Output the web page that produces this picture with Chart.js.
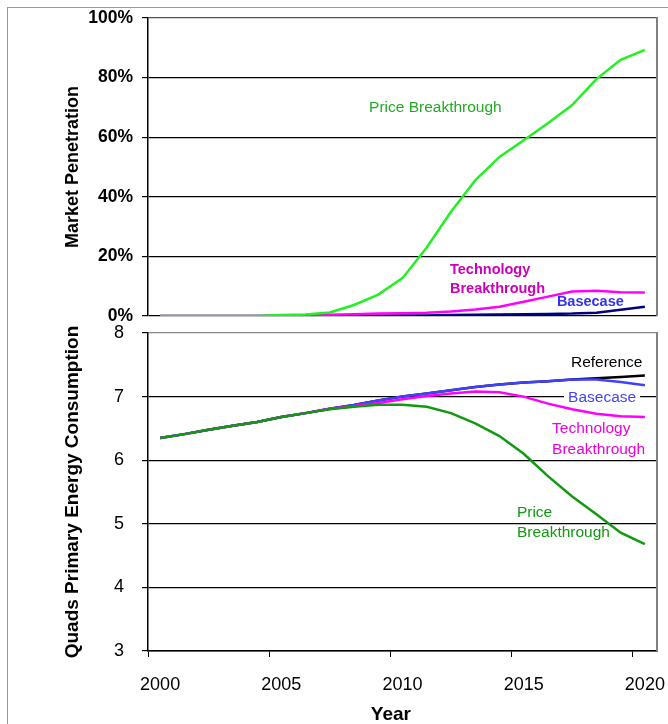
<!DOCTYPE html>
<html>
<head>
<meta charset="utf-8">
<script src="https://cdn.jsdelivr.net/npm/chart.js@4.4.1/dist/chart.umd.min.js"></script>
<style>
  body { margin: 0; background: #fff; }
  #page { position: relative; width: 668px; height: 724px; overflow: hidden; }
  #frame { position: absolute; left: 7px; top: 7px; right: -2px; bottom: -2px; border-left: 1px solid #999; border-top: 1px solid #999; }
  #topChart { position: absolute; left: 0; top: -10px; }
  #bottomChart { position: absolute; left: 0; top: 300px; }
</style>
</head>
<body>
<div id="page">
  <div id="frame"></div>
  <canvas id="topChart" width="668" height="350"></canvas>
  <canvas id="bottomChart" width="690" height="424"></canvas>
</div>
<script>
// categories
var years = ['2000','2001','2002','2003','2004','2005','2006','2007','2008','2009','2010',
             '2011','2012','2013','2014','2015','2016','2017','2018','2019','2020'];

// market penetration, percent
var penPrice = [0,0,0,0,0,0.3,0.5,1.2,3.7,7.2,12.7,23,35,45.5,53.4,59,64.7,70.8,79.5,86,89.3];
var penTech  = [0,0,0,0,0,0.1,0.2,0.4,0.6,0.8,0.9,1.1,1.5,2.2,3.1,4.8,6.5,8.2,8.5,8.0,7.9];
var penBase  = [0,0,0,0,0,0,0,0,0.1,0.1,0.2,0.2,0.3,0.4,0.5,0.6,0.7,0.8,1.1,2.1,3.1];

// primary energy consumption, quads
var quadsRef   = [6.35,6.41,6.48,6.54,6.6,6.68,6.74,6.81,6.87,6.94,7.0,7.05,7.1,7.15,7.19,7.22,7.24,7.27,7.29,7.31,7.33];
var quadsBase  = [6.35,6.41,6.48,6.54,6.6,6.68,6.74,6.81,6.87,6.94,7.0,7.05,7.1,7.15,7.19,7.22,7.24,7.27,7.27,7.23,7.18];
var quadsTech  = [6.35,6.41,6.48,6.54,6.6,6.68,6.74,6.81,6.85,6.9,6.96,7.01,7.05,7.08,7.07,7.0,6.89,6.8,6.73,6.69,6.68];
var quadsPrice = [6.35,6.41,6.48,6.54,6.6,6.68,6.74,6.8,6.84,6.87,6.87,6.84,6.74,6.58,6.38,6.1,5.75,5.43,5.15,4.86,4.68];

// y tick values
var penTicks = [0,20,40,60,80,100];
var quadsTicks = [3,4,5,6,7,8];

// in-chart labels (x in years, y in data units)
var topNotes = [
    { lines: ['Price Breakthrough'], x: 2008.62, y: 69.8, color: '#22aa22', font: '15.5px Arial' },
    { lines: ['Technology', 'Breakthrough'], x: 2011.96, y: 15.4, lh: 19, color: '#cc00bb', font: 'bold 14.5px Arial' },
    { lines: ['Basecase'], x: 2016.37, y: 4.7, color: '#3333ee', font: 'bold 14.5px Arial' }
];
var bottomNotes = [
    { lines: ['Reference'], x: 2016.95, y: 7.54, color: '#000000', font: '15.5px Arial' },
    { lines: ['Basecase'], x: 2016.83, y: 6.99, color: '#4444ff', font: '15.5px Arial', bg: '#ffffff' },
    { lines: ['Technology', 'Breakthrough'], x: 2016.17, y: 6.50, lh: 21, color: '#ee00dd', font: '15.5px Arial' },
    { lines: ['Price', 'Breakthrough'], x: 2014.72, y: 5.17, lh: 20, color: '#119911', font: '15.5px Arial' },
    { lines: ['Year'], x: 2009.52, y: 2.0, color: '#000000', font: 'bold 19px Arial', align: 'center' }
];

var notesPlugin = {
    id: 'notes',
    beforeDatasetsDraw: function (chart, args, opts) {
        var ctx = chart.ctx;
        var xs = chart.scales.x, ys = chart.scales.y;
        (opts.items || []).forEach(function (n) {
            ctx.save();
            ctx.font = n.font;
            ctx.textBaseline = 'middle';
            ctx.textAlign = n.align || 'left';
            var px = xs.getPixelForValue(n.x - 2000);
            n.lines.forEach(function (line, k) {
                var py = ys.getPixelForValue(n.y) + k * (n.lh || 0);
                if (n.bg) {
                    var w = ctx.measureText(line).width;
                    ctx.fillStyle = n.bg;
                    ctx.fillRect(px - 4, py - 4, w + 8, 8);
                }
                ctx.fillStyle = n.color;
                ctx.fillText(line, px, py);
            });
            ctx.restore();
        });
    }
};

var framePlugin = {
    id: 'frameRight',
    afterDatasetsDraw: function (chart) {
        var a = chart.chartArea, ctx = chart.ctx;
        ctx.save();
        ctx.strokeStyle = '#808080';
        ctx.lineWidth = 2;
        ctx.beginPath();
        ctx.moveTo(a.right, a.top - 1);
        ctx.lineTo(a.right, a.bottom);
        ctx.stroke();
        ctx.restore();
    }
};

function line(data, color) {
    return { data: data, borderColor: color, backgroundColor: color, borderWidth: 2.5,
             pointRadius: 0, tension: 0, fill: false };
}

Chart.defaults.font.family = 'Arial, "Liberation Sans", sans-serif';
Chart.defaults.color = '#000';

var topChart = new Chart(document.getElementById('topChart'), {
    type: 'line',
    data: {
        labels: years,
        datasets: [
            line(penPrice, '#22f022'),
            line(penTech, '#ff00ff'),
            line(penBase, '#000080')
        ]
    },
    options: {
        responsive: false,
        animation: false,
        layout: { padding: { left: 0, right: 11, top: 28, bottom: 24 } },
        plugins: { legend: { display: false }, tooltip: { enabled: false },
                   notes: { items: topNotes } },
        scales: {
            x: { type: 'category', offset: true, display: false },
            y: {
                min: 0, max: 100,
                afterBuildTicks: function (s) { s.ticks = penTicks.map(function (v) { return { value: v }; }); },
                afterFit: function (s) { s.width = 148; },
                ticks: { font: { size: 17.5, weight: 'bold' }, padding: 9,
                         callback: function (v) { return v + '%'; } },
                grid: { tickLength: 6, tickColor: '#000', lineWidth: 1.2,
                        color: function (c) { return c.tick && c.tick.value === 100 ? '#555' : '#000'; } },
                border: { color: '#000', width: 1.5 },
                title: { display: true, text: 'Market Penetration', font: { size: 18, weight: 'bold' },
                         padding: { top: 62, bottom: 0 } }
            }
        }
    },
    plugins: [notesPlugin, framePlugin]
});

var bottomChart = new Chart(document.getElementById('bottomChart'), {
    type: 'line',
    data: {
        labels: years,
        datasets: [
            line(quadsPrice, '#119911'),
            line(quadsTech, '#ff00ff'),
            line(quadsBase, '#4040ff'),
            line(quadsRef, '#000000')
        ]
    },
    options: {
        responsive: false,
        animation: false,
        layout: { padding: { left: 0, right: 33, top: 33, bottom: 0 } },
        plugins: { legend: { display: false }, tooltip: { enabled: false },
                   notes: { items: bottomNotes } },
        scales: {
            x: {
                type: 'category', offset: true,
                afterFit: function (s) { s.height = 73; },
                ticks: { autoSkip: false, maxRotation: 0, font: { size: 18 }, padding: 17,
                         callback: function (v, i) { return i % 5 === 0 ? years[i] : ''; } },
                grid: { offset: true, drawOnChartArea: false, tickLength: 6,
                        color: function (c) { return c.index % 5 === 0 && c.index < years.length ? '#000' : 'rgba(0,0,0,0)'; } },
                border: { color: '#000', width: 1.5 }
            },
            y: {
                min: 3, max: 8,
                afterBuildTicks: function (s) { s.ticks = quadsTicks.map(function (v) { return { value: v }; }); },
                afterFit: function (s) { s.width = 148; },
                ticks: { font: { size: 18 }, padding: 18 },
                grid: { tickLength: 6, tickColor: '#000', lineWidth: 1.2,
                        color: function (c) { return c.tick && c.tick.value === 8 ? '#888' : '#000'; } },
                border: { color: '#000', width: 1.5 },
                title: { display: true, text: 'Quads Primary Energy Consumption', font: { size: 19, weight: 'bold' },
                         padding: { top: 61, bottom: 0 } }
            }
        }
    },
    plugins: [notesPlugin, framePlugin]
});
</script>
</body>
</html>
